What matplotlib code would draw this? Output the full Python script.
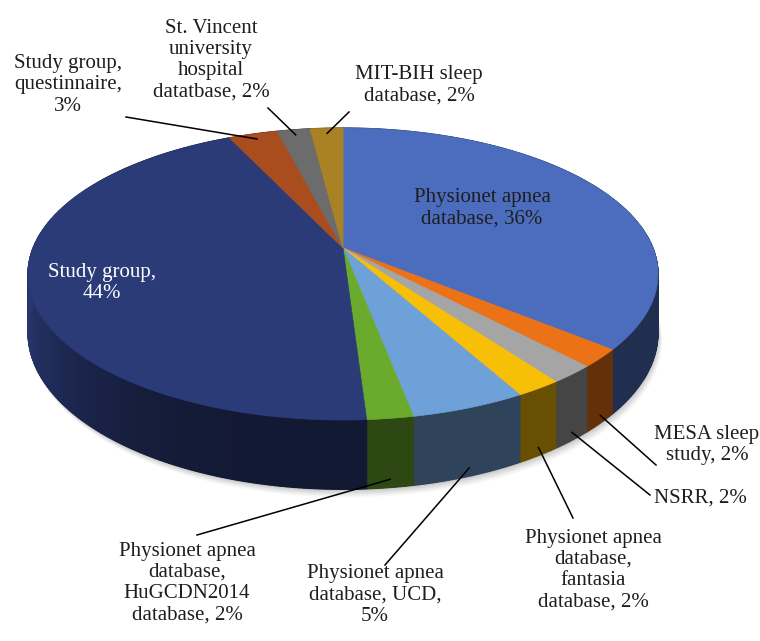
import numpy as np
import matplotlib
matplotlib.use("Agg")
import matplotlib.pyplot as plt
from matplotlib.colors import to_rgb

# data (percent shares, clockwise from 12 o'clock)
labels = ["Physionet apnea\ndatabase, 36%",
          "MESA sleep\nstudy, 2%",
          "NSRR, 2%",
          "Physionet apnea\ndatabase,\nfantasia\ndatabase, 2%",
          "Physionet apnea\ndatabase, UCD,\n5%",
          "Physionet apnea\ndatabase,\nHuGCDN2014\ndatabase, 2%",
          "Study group,\n44%",
          "Study group,\nquestinnaire,\n3%",
          "St. Vincent\nuniversity\nhospital\ndatatbase, 2%",
          "MIT-BIH sleep\ndatabase, 2%"]
shares = [36, 2, 2, 2, 5, 2, 44, 3, 2, 2]
colors = ["#4c6dbe", "#ec7218", "#a5a5a5", "#f7bf06", "#6fa1d9",
          "#6aab2e", "#2b3b78", "#a94d1f", "#6c6c6c", "#a98226"]

# label placement: (x, y) in pixels, and end of leader line
lab_pos = [(482, 208), (707, 445), (700, 498), (593, 570), (375, 595),
           (187, 583), (102, 283), (68, 85), (211, 60), (419, 85)]
lab_end = [None, (656, 465), (650, 495), (573, 518), (385, 565),
           (197, 535), None, (126, 117), (268, 108), (349, 112)]

# geometry of the perspective disk (pixels)
CX, CY = 343, 248
SX, SY, K = 310, 141.4, 0.178
DEPTH = 57


def proj(theta, r=1.0, z=0.0):
    # theta clockwise from far side, radians
    u = r * np.sin(theta)
    v = -r * np.cos(theta)
    w = 1 - K * v
    return CX + SX * u / w, CY + SY * v / w + z / w


def shade(c, f):
    return tuple(min(1, x * f) for x in to_rgb(c))


def wall_f(a):
    left = max(0.0, -np.sin(a))
    return 0.42 + 0.5 * left ** 3


fig = plt.figure(figsize=(7.6, 6.41), dpi=100)
ax = fig.add_axes([0, 0, 1, 1])
ax.set_xlim(0, 760)
ax.set_ylim(641, 0)
ax.axis("off")

edges = np.cumsum([0] + shares) / 100.0 * 2 * np.pi

# soft shadow under the pie
t = np.linspace(0, 2 * np.pi, 400)
bx, by = proj(t, 1.0, DEPTH)
for i, a in enumerate([0.04, 0.05, 0.06, 0.07, 0.09]):
    off = 8 - i * 1.6
    ax.fill(bx + off * 0.5, by + off, color="#404040", alpha=a, lw=0, zorder=1)

# side walls: one base polygon per slice, then thin shaded strips on top
for k in range(len(shares)):
    th = np.linspace(edges[k], edges[k + 1], max(4, int(shares[k] * 6)))
    xt, yt = proj(th)
    xb, yb = proj(th, 1.0, DEPTH)
    base = shade(colors[k], wall_f(0.5 * (edges[k] + edges[k + 1])))
    ax.fill(np.r_[xt, xb[::-1]], np.r_[yt, yb[::-1]], color=base, lw=0,
            zorder=2)
    for a0, a1 in zip(th[:-1], th[1:]):
        c = shade(colors[k], wall_f(0.5 * (a0 + a1)))
        x0, y0 = proj(a0)
        x1, y1 = proj(a1)
        x2, y2 = proj(a1, 1.0, DEPTH)
        x3, y3 = proj(a0, 1.0, DEPTH)
        ax.fill([x0, x1, x2, x3], [y0, y1, y2, y3], color=c,
                lw=0.8, ec=c, zorder=2.1)

# top faces
for k in range(len(shares)):
    th = np.linspace(edges[k], edges[k + 1], max(4, int(shares[k] * 8)))
    xs, ys = proj(th)
    ax.fill(np.r_[CX, xs], np.r_[CY, ys], color=colors[k], lw=0.5,
            ec=colors[k], zorder=3)

font = dict(family="Liberation Serif", fontsize=15, ha="center", va="center",
            ma="center", linespacing=1.15, zorder=5)

for k in range(len(shares)):
    x, y = lab_pos[k]
    col = "white" if k == 6 else "#1e1e1e"
    ax.text(x, y, labels[k], color=col, **font)
    if lab_end[k] is None:
        continue
    mid = 0.5 * (edges[k] + edges[k + 1])
    if np.cos(mid) < 0:
        px, py = proj(mid, 1.0, DEPTH * 0.88)
    else:
        px, py = proj(mid, 0.95)
    ex, ey = lab_end[k]
    ax.plot([px, ex], [py, ey], color="black", lw=1.1, zorder=4)

fig.savefig("out.png", dpi=100)
